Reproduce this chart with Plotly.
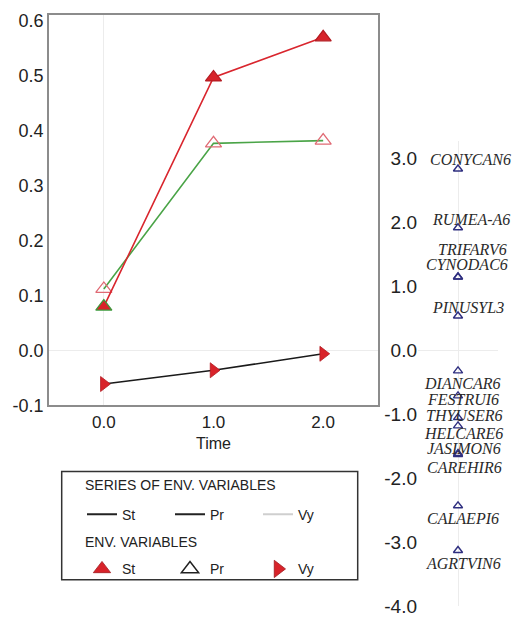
import plotly.graph_objects as go

# ---------------- data ----------------
time = [0, 1, 2]
time_labels = ["0.0", "1.0", "2.0"]
st_vals = [0.080, 0.497, 0.570]
pr_vals = [0.112, 0.377, 0.382]
vy_vals = [-0.061, -0.036, -0.006]
left_ticks = [-0.1, 0.0, 0.1, 0.2, 0.3, 0.4, 0.5, 0.6]

species = ["CONYCAN6", "RUMEA-A6", "TRIFARV6", "CYNODAC6", "PINUSYL3",
           "DIANCAR6", "FESTRUI6", "THYUSER6", "HELCARE6", "JASIMON6",
           "CAREHIR6", "CALAEPI6", "AGRTVIN6"]
species_scores = [2.84, 1.92, 1.15, 1.15, 0.54, -0.32, -0.71, -1.05,
                  -1.18, -1.61, -1.63, -2.43, -3.13]
right_ticks = [3, 2, 1, 0, -1, -2, -3, -4]

legend_series = ["St", "Pr", "Vy"]
legend_titles = ["SERIES OF ENV. VARIABLES", "ENV. VARIABLES"]

# label placement offsets (px) for the species labels
label_dy = [9, 8, 27, 12, 8, -13, -4, 2, -8, 5, -13, -13, -13]
label_dx = [12, 13, 14, 9, 10, 4, 5, 6, 5, 6, 6, 5, 5]

W, H = 512, 621
FONT = "Liberation Sans, Arial, sans-serif"
RED = "#d8232a"
TXT = "#222222"


def px_x(p):
    return p / W


def px_y(p):
    return 1 - p / H


fig = go.Figure()

# ---- main series ----
fig.add_trace(go.Scatter(
    x=time, y=pr_vals, mode="lines+markers", showlegend=False,
    line=dict(color="#4aa447", width=1.6),
    marker=dict(symbol="triangle-up-open", size=14, color="#e06a74",
                line=dict(width=1.3))))
fig.add_trace(go.Scatter(
    x=time, y=st_vals, mode="lines+markers", showlegend=False,
    line=dict(color="#d9262e", width=1.6),
    marker=dict(symbol="triangle-up", size=14, color=RED,
                line=dict(width=1.2, color=["#3c9a3c", "#b31c22", "#b31c22"]))))
fig.add_trace(go.Scatter(
    x=time, y=vy_vals, mode="lines+markers", showlegend=False,
    line=dict(color="#1a1a1a", width=1.6),
    marker=dict(symbol="triangle-right", size=13, color=RED,
                line=dict(width=0.8, color="#b31c22"))))

# ---- species scores panel ----
fig.add_trace(go.Scatter(
    x=[0] * len(species_scores), y=species_scores, mode="markers",
    xaxis="x2", yaxis="y2", showlegend=False,
    marker=dict(symbol="triangle-up-open", size=8, color="#2f2f80",
                line=dict(width=1.4))))

for name, sc, dy, dx in zip(species, species_scores, label_dy, label_dx):
    fig.add_annotation(
        x=0, y=sc, xref="x2", yref="y2", text=name, showarrow=False,
        xshift=dx, yshift=dy,
        font=dict(family="Liberation Serif, Times New Roman, serif",
                  size=16, color="#2a2a2a", style="italic"))

# ---- legend entries ----
for nm, col in zip(legend_series, ["#222222", "#222222", "#cfcfcf"]):
    fig.add_trace(go.Scatter(
        x=[None], y=[None], mode="lines", name=nm, legend="legend",
        line=dict(color=col, width=2)))
for nm, sym, col in zip(legend_series,
                        ["triangle-up", "triangle-up-open", "triangle-right"],
                        [RED, "#222222", RED]):
    fig.add_trace(go.Scatter(
        x=[None], y=[None], mode="markers", name=nm, legend="legend2",
        marker=dict(symbol=sym, size=15, color=col,
                    line=dict(width=1.5 if sym.endswith("open") else 0.8,
                              color="#222222" if sym.endswith("open") else "#a01a1f"))))

# legend section titles
for t, ypx in zip(legend_titles, [492, 550]):
    fig.add_annotation(x=px_x(83), y=px_y(ypx), xref="paper", yref="paper",
                       text=t, showarrow=False, xanchor="left", yanchor="middle",
                       font=dict(family=FONT, size=14, color=TXT))

legend_common = dict(
    orientation="h", xanchor="left", yanchor="top",
    entrywidth=43, entrywidthmode="pixels",
    font=dict(family=FONT, size=14, color=TXT),
    bgcolor="rgba(0,0,0,0)", borderwidth=0, traceorder="normal",
)

fig.update_layout(
    width=W, height=H, autosize=False,
    margin=dict(l=0, r=0, t=0, b=0),
    paper_bgcolor="white", plot_bgcolor="white",
    font=dict(family=FONT, color=TXT),
    xaxis=dict(
        domain=[px_x(49), px_x(378)], range=[-0.5, 2.5],
        tickvals=time, ticktext=time_labels,
        tickfont=dict(size=17, color=TXT),
        showgrid=False, zeroline=True, zerolinecolor="#ececec", zerolinewidth=1,
        showline=True, linecolor="#8c8c8c", linewidth=1.5, mirror=True,
        ticks="", title=dict(text="Time", font=dict(size=16, color=TXT),
                             standoff=7),
        anchor="y",
    ),
    yaxis=dict(
        domain=[px_y(410.7), px_y(11)], range=[-0.1, 0.611],
        tickvals=left_ticks, ticktext=[f"{v:.1f}" for v in left_ticks],
        tickfont=dict(size=18, color=TXT),
        showgrid=False, zeroline=True, zerolinecolor="#ececec", zerolinewidth=1,
        showline=True, linecolor="#8c8c8c", linewidth=1.5, mirror=True,
        ticks="", anchor="x",
    ),
    xaxis2=dict(
        domain=[px_x(418), px_x(498)], range=[-1, 1],
        showticklabels=False, showgrid=False, showline=False,
        zeroline=True, zerolinecolor="#ececec", zerolinewidth=1,
        anchor="y2",
    ),
    yaxis2=dict(
        domain=[px_y(616), px_y(140)], range=[-4.0, 3.28],
        tickvals=right_ticks, ticktext=[f"{v:.1f}" for v in right_ticks],
        tickfont=dict(size=19, color=TXT),
        showgrid=False, showline=False, ticks="",
        zeroline=True, zerolinecolor="#ececec", zerolinewidth=1,
        anchor="x2", side="left",
    ),
    legend=dict(x=px_x(82), y=px_y(506), **legend_common),
    legend2=dict(x=px_x(82), y=px_y(562), **legend_common),
    shapes=[dict(type="rect", xref="paper", yref="paper",
                 x0=px_x(61.7), x1=px_x(357.7), y0=px_y(589), y1=px_y(478.3),
                 line=dict(color="#333333", width=1.5), fillcolor="rgba(0,0,0,0)")],
)

fig.write_html("out.html")
